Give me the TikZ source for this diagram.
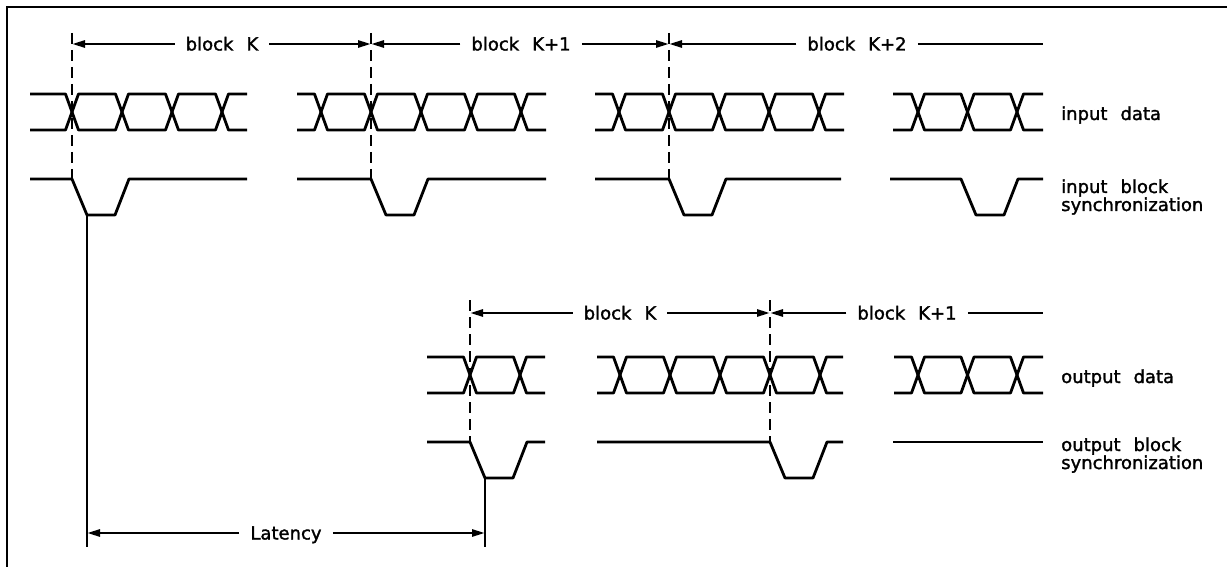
\documentclass[tikz,border=0pt]{standalone}
\usepackage{fontspec}
\newfontfamily\cadfont{DejaVu Sans}[FakeBold=1.6]
\usetikzlibrary{arrows.meta}
\newcommand\wgap{\hspace{13pt}}
% data row: #1 top y, #2 start x, #3 end x, #4 first crossing, #5 spacing, #6 number of crossings
\newcommand\datarow[6]{%
  \pgfmathsetmacro\yt{#1}\pgfmathsetmacro\yb{#1+36}\pgfmathsetmacro\ym{#1+18}%
  \pgfmathsetmacro\cl{#4+(#6-1)*#5}%
  \draw[sig] (#2,\yt) -- (#4-6.5,\yt) -- (#4,\ym) -- (#4-6.5,\yb) -- (#2,\yb);
  \draw[sig] (#3,\yt) -- (\cl+6.5,\yt) -- (\cl,\ym) -- (\cl+6.5,\yb) -- (#3,\yb);
  \pgfmathtruncatemacro\nm{#6-2}%
  \foreach \i in {0,...,\nm}{%
    \pgfmathsetmacro\ca{#4+\i*#5}\pgfmathsetmacro\cb{\ca+#5}%
    \draw[sig] (\ca,\ym) -- (\ca+6.5,\yt) -- (\cb-6.5,\yt) -- (\cb,\ym) -- (\cb-6.5,\yb) -- (\ca+6.5,\yb) -- cycle;
  }%
}
% sync row: #1 high y, #2 start x, #3 end x, #4 fall x
\newcommand\syncrow[4]{%
  \draw[sig] (#2,#1) -- (#4,#1) -- (#4+15,#1+36) -- (#4+43,#1+36) -- (#4+57,#1) -- (#3,#1);
}
\begin{document}
\begin{tikzpicture}[x=1pt,y=-1pt,
  sig/.style={line width=2.8pt, line join=round},
  dashline/.style={line width=2.8pt, dash pattern=on 11pt off 6pt},
  dimline/.style={line width=2.6pt},
  dimtip/.style={-{Triangle[length=13pt,width=7pt]}},
  dimlabel/.style={font=\cadfont\fontsize{18}{20}\selectfont, text height=13pt, text depth=0pt, inner xsep=11pt, inner ysep=0pt},
  siglabel/.style={font=\cadfont\fontsize{18}{20}\selectfont, anchor=base west, inner sep=0pt}]
\useasboundingbox (0,0) rectangle (1227,567);
% frame
\draw[line width=2.8pt] (1227,7) -- (7,7) -- (7,567);

% input data
\datarow{94}{30}{247}{72}{50}{4}
\datarow{94}{297}{546}{321}{50}{5}
\datarow{94}{595}{844}{619}{50}{5}
\datarow{94}{893}{1043}{918}{49.5}{3}
% input sync
\syncrow{179}{30}{247}{72}
\syncrow{179}{297}{546}{371}
\syncrow{179}{595}{841}{669}
\syncrow{179}{890}{1043}{961}
% output data
\datarow{357}{427}{545}{470}{50}{2}
\datarow{357}{597}{843}{620}{50}{5}
\datarow{357}{894}{1043}{918}{49.5}{3}
% output sync
\syncrow{442}{427}{545}{470}
\syncrow{442}{597}{843}{770}
\draw[sig] (893,442) -- (1043,442);

% dashed markers
\coordinate (dAt) at (72,33);  \coordinate (dAb) at (72,179);
\coordinate (dBt) at (371,33); \coordinate (dBb) at (371,179);
\coordinate (dCt) at (669,33); \coordinate (dCb) at (669,179);
\coordinate (oAt) at (470,300); \coordinate (oAb) at (470,442);
\coordinate (oBt) at (770,300); \coordinate (oBb) at (770,442);
\draw[dashline] (dAt) -- (dAb);
\draw[dashline] (dBt) -- (dBb);
\draw[dashline] (dCt) -- (dCb);
\draw[dashline] (oAt) -- (oAb);
\draw[dashline] (oBt) -- (oBb);

% input block dimensions
\coordinate (mA) at (72,44); \coordinate (mB) at (371,44);
\coordinate (mC) at (669,44); \coordinate (mE) at (1043,44);
\node[dimlabel] (tK) at (222,44) {block\wgap K};
\node[dimlabel] (tK1) at (521,44) {block\wgap K+1};
\node[dimlabel] (tK2) at (857,44) {block\wgap K+2};
\draw[dimline,dimtip] (tK.west) -- (mA);
\draw[dimline,dimtip] (tK.east) -- (mB);
\draw[dimline,dimtip] (tK1.west) -- (mB);
\draw[dimline,dimtip] (tK1.east) -- (mC);
\draw[dimline,dimtip] (tK2.west) -- (mC);
\draw[dimline] (tK2.east) -- (mE);

% output block dimensions
\coordinate (nA) at (470,313); \coordinate (nB) at (770,313); \coordinate (nE) at (1043,313);
\node[dimlabel] (uK) at (620,313) {block\wgap K};
\node[dimlabel] (uK1) at (907,313) {block\wgap K+1};
\draw[dimline,dimtip] (uK.west) -- (nA);
\draw[dimline,dimtip] (uK.east) -- (nB);
\draw[dimline,dimtip] (uK1.west) -- (nB);
\draw[dimline] (uK1.east) -- (nE);

% latency
\coordinate (vAt) at (87,215); \coordinate (vAb) at (87,547);
\coordinate (vBt) at (485,478); \coordinate (vBb) at (485,547);
\draw[sig] (vAt) -- (vAb);
\draw[sig] (vBt) -- (vBb);
\coordinate (lA) at (87,533); \coordinate (lB) at (485,533);
\node[dimlabel] (lat) at (286,533) {Latency};
\draw[dimline,dimtip] (lat.west) -- (lA);
\draw[dimline,dimtip] (lat.east) -- (lB);

% signal labels
\node[siglabel] (lbInD) at (1061,120) {input\wgap data};
\node[siglabel] (lbInB) at (1061,193) {input\wgap block};
\node[siglabel] (lbInS) at (1061,211) {synchronization};
\node[siglabel] (lbOutD) at (1061,383) {output\wgap data};
\node[siglabel] (lbOutB) at (1061,451) {output\wgap block};
\node[siglabel] (lbOutS) at (1061,469) {synchronization};
\end{tikzpicture}
\end{document}
